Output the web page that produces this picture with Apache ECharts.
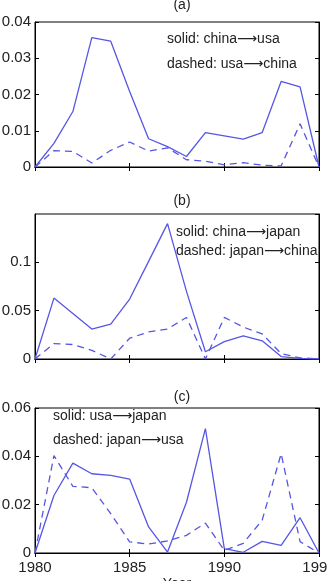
<!DOCTYPE html>
<html lang="en">
<head>
    <meta charset="utf-8">
    <script src="https://cdn.jsdelivr.net/npm/echarts@6/dist/echarts.min.js"></script>
    <title>Trade flows</title>
    <style>
        html, body { margin: 0; padding: 0; background: #fff; }
        #container { width: 327px; height: 581px; }
    </style>
</head>
<body>
<div id="container"></div>

<script type="text/javascript">
    // years on x axis
    var years = [1980, 1981, 1982, 1983, 1984, 1985, 1986, 1987, 1988, 1989, 1990, 1991, 1992, 1993, 1994, 1995];
    var xTicks = [1980, 1985, 1990, 1995];

    // (a)
    var chinaUsa = [0, 0.0065, 0.0153, 0.0357, 0.0347, 0.0208, 0.0078, 0.0056, 0.0029, 0.0095, 0.0086, 0.0077, 0.0095, 0.0236, 0.0221, 0];
    var usaChina = [0, 0.0045, 0.0043, 0.0011, 0.0046, 0.0069, 0.0044, 0.0053, 0.0020, 0.0016, 0.0006, 0.0012, 0.0005, 0.0003, 0.0119, 0];
    // (b)
    var chinaJapan = [0, 0.063, 0.047, 0.031, 0.036, 0.062, 0.101, 0.140, 0.070, 0.0075, 0.018, 0.024, 0.0188, 0.0025, 0.0006, 0];
    var japanChina = [0, 0.016, 0.015, 0.009, 0, 0.0215, 0.028, 0.031, 0.043, 0, 0.043, 0.033, 0.026, 0.0055, 0.0012, 0];
    // (c)
    var usaJapan = [0, 0.0238, 0.0372, 0.0328, 0.0321, 0.0306, 0.0108, 0.0004, 0.0210, 0.0515, 0.0018, 0.0003, 0.0048, 0.0032, 0.0146, 0];
    var japanUsa = [0, 0.0403, 0.0276, 0.0270, 0.0163, 0.0046, 0.0037, 0.0050, 0.0073, 0.0124, 0.0011, 0.0040, 0.0136, 0.0411, 0.0047, 0];

    var panelTitles = ['(a)', '(b)', '(c)'];
    var yMax = [0.04, 0.15, 0.06];
    var yStep = [0.01, 0.05, 0.02];
    var solidNames = ['solid: china\u27F6usa', 'solid: china\u27F6japan', 'solid: usa\u27F6japan'];
    var dashedNames = ['dashed: usa\u27F6china', 'dashed: japan\u27F6china', 'dashed: japan\u27F6usa'];

    var font = '"Liberation Sans", Arial, "DejaVu Sans", sans-serif';
    var lineColor = '#5656e4';
    var gridTops = [22, 214, 408];

    function pairs(vals) {
        return years.map(function (y, i) { return [y, vals[i]]; });
    }

    var grids = [], xAxes = [], yAxes = [], series = [], titles = [];
    var solids = [chinaUsa, chinaJapan, usaJapan];
    var dashes = [usaChina, japanChina, japanUsa];

    for (let i = 0; i < 3; i++) {
        grids.push({
            left: 35, width: 284, top: gridTops[i], height: 145,
            containLabel: false, outerBoundsMode: 'none',
            show: true, borderColor: '#000', borderWidth: 1
        });
        titles.push({
            text: panelTitles[i], left: 177, top: [-7, 189, 385][i],
            textAlign: 'center',
            textStyle: { fontFamily: font, fontSize: 14, fontWeight: 'normal', color: '#222' }
        });
        // bottom x axis
        xAxes.push({
            type: 'value', gridIndex: i, min: 1980, max: 1995, interval: 5,
            axisLine: { show: true, lineStyle: { color: '#000' } },
            axisTick: { show: true, inside: true, length: 4, lineStyle: { color: '#000' } },
            splitLine: { show: false },
            axisLabel: {
                show: i === 2, margin: 7, fontFamily: font, fontSize: 15, color: '#222',
                showMinLabel: true, showMaxLabel: true, hideOverlap: false,
                formatter: function (v) { return String(v); }
            },
            name: i === 2 ? 'Year' : '', nameLocation: 'middle', nameGap: 24,
            nameTextStyle: { fontFamily: font, fontSize: 14, color: '#222' }
        });
        // top x axis, ticks only
        xAxes.push({
            type: 'value', gridIndex: i, position: 'top', min: 1980, max: 1995, interval: 5,
            axisLine: { show: true, lineStyle: { color: '#000' } },
            axisTick: { show: true, inside: true, length: 4, lineStyle: { color: '#000' } },
            splitLine: { show: false }, axisLabel: { show: false }
        });
        yAxes.push({
            type: 'value', gridIndex: i, min: 0, max: yMax[i], interval: yStep[i],
            axisLine: { show: true, lineStyle: { color: '#000' } },
            axisTick: { show: true, inside: true, length: 4, lineStyle: { color: '#000' } },
            splitLine: { show: false },
            axisLabel: {
                margin: 4, fontFamily: font, fontSize: 15, color: '#222',
                showMaxLabel: i !== 1,
                formatter: function (v) { return v === 0 ? '0' : String(+v.toFixed(3)); }
            }
        });
        yAxes.push({
            type: 'value', gridIndex: i, position: 'right', min: 0, max: yMax[i], interval: yStep[i],
            axisLine: { show: true, lineStyle: { color: '#000' } },
            axisTick: { show: true, inside: true, length: 4, lineStyle: { color: '#000' } },
            splitLine: { show: false }, axisLabel: { show: false }
        });
        series.push({
            name: solidNames[i], type: 'line', xAxisIndex: 2 * i, yAxisIndex: 2 * i,
            data: pairs(solids[i]), symbol: 'none', silent: true,
            lineStyle: { color: lineColor, width: 1.3, type: 'solid' }
        });
        series.push({
            name: dashedNames[i], type: 'line', xAxisIndex: 2 * i, yAxisIndex: 2 * i,
            data: pairs(dashes[i]), symbol: 'none', silent: true,
            lineStyle: { color: lineColor, width: 1.3, type: [7, 5] }
        });
    }

    // legend-like annotations written inside the plots
    var notePos = [
        [167, 40, 65],
        [176, 233, 252],
        [53, 417, 441]
    ];
    var graphics = [];
    for (let i = 0; i < 3; i++) {
        graphics.push({
            type: 'text', left: notePos[i][0], top: notePos[i][1] - 8,
            style: { text: solidNames[i], font: '14px ' + font, fill: '#222' }
        });
        graphics.push({
            type: 'text', left: notePos[i][0], top: notePos[i][2] - 8,
            style: { text: dashedNames[i], font: '14px ' + font, fill: '#222' }
        });
    }

    const chart = echarts.init(document.getElementById('container'), null, { renderer: 'canvas' });
    chart.setOption({
        animation: false,
        backgroundColor: '#fff',
        title: titles,
        grid: grids,
        xAxis: xAxes,
        yAxis: yAxes,
        series: series,
        graphic: graphics
    });
</script>
</body>
</html>
